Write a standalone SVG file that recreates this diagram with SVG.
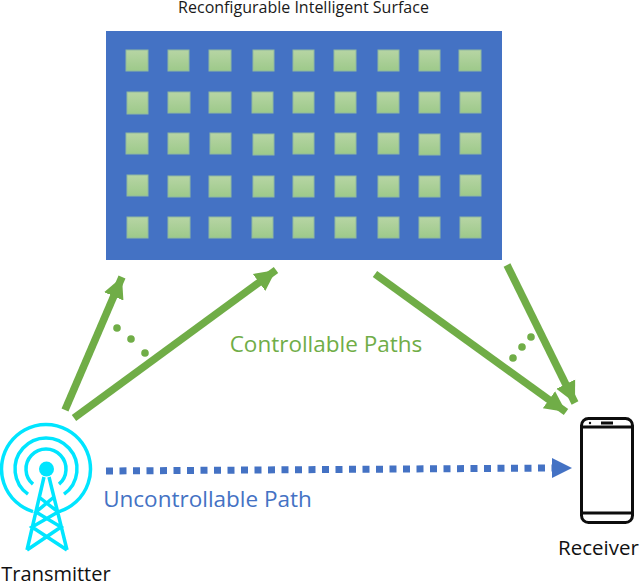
<svg xmlns="http://www.w3.org/2000/svg" width="640" height="583" viewBox="0 0 640 583">
<defs>
<linearGradient id="g" x1="0" y1="0" x2="0" y2="1"><stop offset="0" stop-color="#b7d5a4"/><stop offset="1" stop-color="#9dc98a"/></linearGradient>
<marker id="ga" markerUnits="userSpaceOnUse" markerWidth="24" markerHeight="24" refX="21" refY="12" orient="auto"><path d="M0 1.500 L21 12 L0 22.500 Z" fill="#70ad47"/></marker>
</defs>
<style>
text{font-family:"Open Sans","Noto Sans","Liberation Sans",sans-serif}
.c{fill:url(#g);stroke:#8fb8a0;stroke-width:1}
.p{stroke:#70ad47;stroke-width:7.500;fill:none;marker-end:url(#ga)}
.t{fill:none;stroke:#00e5ff;stroke-width:3.500}
.b{fill:none;stroke:#0d0d0d;stroke-width:3}
</style>
<g id="surface">
<rect x="106" y="31" width="396" height="229" fill="#4472c4"/>
<rect class="c" x="126" y="50" width="22" height="21"/><rect class="c" x="168" y="50" width="21" height="21"/><rect class="c" x="209" y="50" width="22" height="21"/><rect class="c" x="253" y="50" width="21" height="21"/><rect class="c" x="293" y="50" width="21" height="21"/><rect class="c" x="334" y="50" width="22" height="21"/><rect class="c" x="378" y="50" width="21" height="21"/><rect class="c" x="419" y="50" width="21" height="21"/><rect class="c" x="459" y="50" width="22" height="21"/>
<rect class="c" x="127" y="92" width="21" height="22"/><rect class="c" x="168" y="92" width="22" height="21"/><rect class="c" x="209" y="92" width="22" height="21"/><rect class="c" x="252" y="92" width="21" height="21"/><rect class="c" x="293" y="92" width="21" height="21"/><rect class="c" x="335" y="92" width="21" height="21"/><rect class="c" x="377" y="92" width="22" height="21"/><rect class="c" x="419" y="92" width="21" height="21"/><rect class="c" x="460" y="92" width="21" height="21"/>
<rect class="c" x="126" y="133" width="22" height="21"/><rect class="c" x="168" y="133" width="21" height="21"/><rect class="c" x="210" y="133" width="21" height="21"/><rect class="c" x="253" y="134" width="21" height="21"/><rect class="c" x="293" y="133" width="21" height="21"/><rect class="c" x="335" y="133" width="21" height="21"/><rect class="c" x="378" y="133" width="21" height="21"/><rect class="c" x="419" y="134" width="21" height="21"/><rect class="c" x="460" y="133" width="21" height="21"/>
<rect class="c" x="127" y="175" width="21" height="21"/><rect class="c" x="168" y="176" width="22" height="21"/><rect class="c" x="209" y="176" width="22" height="21"/><rect class="c" x="253" y="176" width="21" height="21"/><rect class="c" x="293" y="176" width="21" height="21"/><rect class="c" x="335" y="176" width="21" height="21"/><rect class="c" x="378" y="176" width="21" height="21"/><rect class="c" x="419" y="176" width="21" height="21"/><rect class="c" x="460" y="175" width="21" height="21"/>
<rect class="c" x="127" y="217" width="21" height="21"/><rect class="c" x="168" y="217" width="22" height="21"/><rect class="c" x="209" y="217" width="22" height="21"/><rect class="c" x="252" y="217" width="21" height="21"/><rect class="c" x="293" y="217" width="21" height="21"/><rect class="c" x="335" y="217" width="21" height="21"/><rect class="c" x="378" y="217" width="21" height="21"/><rect class="c" x="419" y="217" width="21" height="21"/><rect class="c" x="460" y="217" width="21" height="21"/>
<text x="303.500" y="13" font-size="16" text-anchor="middle" fill="#1a1a1a">Reconfigurable Intelligent Surface</text>
</g>
<g id="connectors">
<line class="p" x1="65" y1="410" x2="122" y2="277"/>
<line class="p" x1="74" y1="418" x2="276" y2="270"/>
<line class="p" x1="375" y1="274" x2="566" y2="412"/>
<line class="p" x1="507" y1="265" x2="575" y2="403"/>
<line x1="106" y1="471" x2="552" y2="468" stroke="#4472c4" stroke-width="7" stroke-dasharray="7 6.500"/>
<path d="M552 458 L572 468 L552 478 Z" fill="#4472c4"/>
<g fill="#70ad47"><circle cx="117" cy="328" r="3.800"/><circle cx="131" cy="339" r="3.800"/><circle cx="145" cy="353" r="3.800"/><circle cx="513" cy="358" r="3.800"/><circle cx="522" cy="347" r="3.800"/><circle cx="531" cy="337" r="3.800"/></g>
</g>
<g id="controllable-label"><text x="326" y="352" font-size="22.500" text-anchor="middle" fill="#70ad47">Controllable Paths</text></g>
<g id="uncontrollable-label"><text x="207.500" y="507" font-size="22.500" text-anchor="middle" fill="#4472c4">Uncontrollable Path</text></g>
<g id="transmitter">
<path class="t" d="M33 484.200 A20 20 0 1 1 59 484.200"/>
<path class="t" d="M28 494.200 A31 31 0 1 1 64 494.200"/>
<path class="t" d="M33 511.600 A44.500 44.500 0 1 1 59 511.600"/>
<circle cx="46.500" cy="469" r="7.500" fill="#00e5ff"/>
<path class="t" stroke-width="3" d="M44 477 L27 550 M49 477 L67 550 M39 497 L58 512 L32 527 L67 550 M54 497 L36 512 L61 527 L27 550"/>
<text x="56" y="581" font-size="20" text-anchor="middle" fill="#111">Transmitter</text>
</g>
<g id="receiver">
<rect class="b" x="581.500" y="418.500" width="51" height="104" rx="7"/>
<line class="b" stroke-width="1.500" x1="582" y1="427" x2="632" y2="427"/>
<line class="b" stroke-width="1.500" x1="582" y1="513" x2="632" y2="513"/>
<line class="b" stroke-width="2" x1="601" y1="423" x2="613" y2="423"/>
<circle cx="590" cy="423" r="1.200" fill="#0d0d0d"/>
<text x="598.500" y="555" font-size="20.500" text-anchor="middle" fill="#111">Receiver</text>
</g>
</svg>
